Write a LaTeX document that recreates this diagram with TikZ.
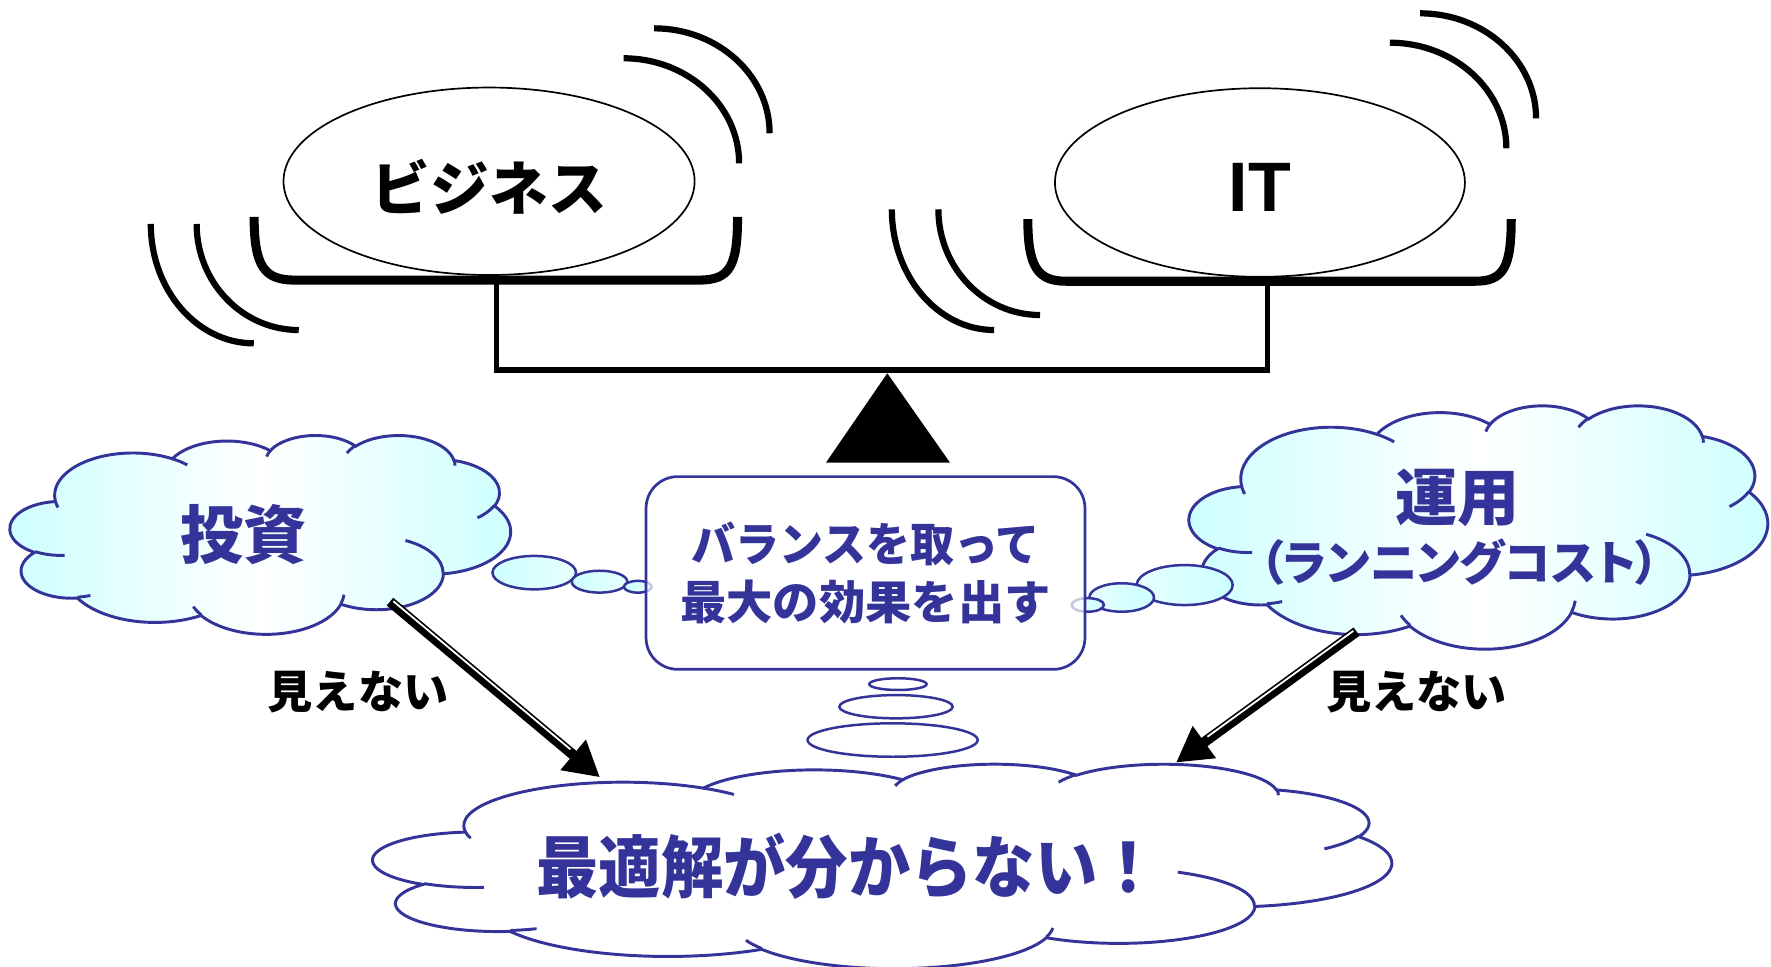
\documentclass[tikz,border=0pt]{standalone}
\usepackage{fontspec}
\usetikzlibrary{shapes.geometric,arrows.meta}
\newfontfamily\jp{Noto Sans CJK JP}
\newfontfamily\jpp{Noto Sans CJK JP}[RawFeature=+palt]
\newfontfamily\lsans{Liberation Sans}
\definecolor{navy}{RGB}{51,51,153}
\definecolor{cloudcyan}{RGB}{204,255,255}
\newcommand\jbf[1]{\jp\bfseries\fontsize{#1}{#1}\selectfont}
\newcommand\jbfp[1]{\jpp\bfseries\fontsize{#1}{#1}\selectfont}
\newcommand\jbfs[2]{\jp\bfseries\fontsize{#1}{#2}\selectfont}
% DrawingML-style arc: wR hR stAng swAng (visual angles)
\newcommand\carc[4]{\pgfextra{%
  \pgfmathsetmacro\cts{atan2((#1)*sin(#3),(#2)*cos(#3))}%
  \pgfmathsetmacro\cte{atan2((#1)*sin((#3)+(#4)),(#2)*cos((#3)+(#4)))}%
  \pgfmathsetmacro\cte{\cte<\cts ? \cte+360 : \cte}%
 }arc[start angle=\cts, end angle=\cte, x radius=#1, y radius=#2]}
\newcommand\pptcloud[5]{%
 \begin{scope}[shift={(#1,#2)},xscale=#3/432,yscale=#4/432]
  \path[#5] (39.00,143.70)
   \carc{67.53}{91.90}{-190.48748}{123.78053}
   \carc{53.33}{72.67}{-144.10238}{89.94523}
   \carc{43.65}{59.45}{-145.80792}{99.72302}
   \carc{48.57}{65.95}{-130.98607}{117.24173}
   \carc{53.33}{72.73}{-78.70888}{109.02692}
   \carc{67.75}{92.20}{-46.26725}{130.269}
   \carc{57.85}{78.67}{0.62502}{114.03333}
   \carc{67.52}{92.15}{22.4516}{115.17255}
   \carc{77.20}{105.43}{66.24263}{75.71102}
   \carc{43.60}{59.18}{-274.94208}{146.73557}
   \carc{43.45}{59.45}{-246.8285}{152.51885}
   -- cycle;
  \draw[cloudline]
   (46.93,261.77) \carc{43.45}{59.45}{86.742}{26.4295}
   (69.28,348.99) \carc{43.60}{59.18}{73.6105}{11.4475}
   (164.78,390.90) \carc{67.52}{92.15}{137.6242}{14.0811}
   (288.27,347.51) \carc{67.52}{92.15}{6.4533}{15.9984}
   (341.29,229.54) \carc{57.85}{78.67}{-70.2924}{70.9174}
   (417.98,153.54) \carc{53.33}{72.73}{30.318}{27.7515}
   (383.24,54.26) \carc{48.57}{65.95}{-13.7443}{14.8589}
   (290.78,39.52) \carc{48.57}{65.95}{-149.1815}{18.1954}
   (221.41,47.20) \carc{43.65}{59.45}{-163.4943}{17.6864}
   (140.00,51.92) \carc{67.53}{91.90}{-66.707}{12.3194}
   (41.27,157.89) \carc{67.53}{91.90}{157.6544}{11.8582};
 \end{scope}}
\begin{document}
\begin{tikzpicture}[x=1pt,y=-1pt,
  vib/.style={line width=5.5pt},
  tray/.style={line width=8pt,line join=round},
  beamline/.style={line width=4.5pt,line join=miter},
  cloudline/.style={draw=navy,line width=2.6pt},
  cyancloud/.style={cloudline,left color=cloudcyan,right color=cloudcyan,middle color=white},
  whitecloud/.style={cloudline,fill=white},
  pan/.style={ellipse,draw,line width=1.5pt,fill=white,inner sep=0pt},
  bubbleL/.style={ellipse,draw=navy,line width=2.2pt,inner sep=0pt,left color=cloudcyan,right color=cloudcyan!45!white},
  bubbleR/.style={ellipse,draw=navy,line width=2.2pt,inner sep=0pt,left color=cloudcyan!45!white,right color=cloudcyan},
  bubbleW/.style={ellipse,draw=navy,line width=2.2pt,inner sep=0pt,fill=white},
  bigarrow/.style={line width=9pt,-{Triangle[length=31pt,width=33pt]}},
  stripe/.style={white,line width=1.6pt,shorten <=2pt,shorten >=36pt},
  bluetext/.style={text=navy,inner sep=0pt},
  blacktext/.style={text=black,inner sep=0pt}]
\useasboundingbox (0,0) rectangle (1568,856);

% ---- balance ----
\node[pan,minimum width=364pt,minimum height=166pt] (biz) at (433,160.5) {};
\node[pan,minimum width=363pt,minimum height=167pt] (it) at (1115.5,161.6) {};
\node[blacktext,font=\jbf{52}] (biztext) at (433.3,165.3) {ビジネス};
\node[blacktext,font=\lsans\bfseries\fontsize{62}{62}\selectfont] (ittext) at (1115.3,166.3) {IT};

\draw[tray] (225,192) .. controls (225,236) and (234,248) .. (261,248) -- (619,248)
  .. controls (646,248) and (653,236) .. (653,192);
\draw[tray] (910,194) .. controls (910,237) and (919,249) .. (944,249) -- (1306,249)
  .. controls (1331,249) and (1338,237) .. (1338,194);
\draw[beamline] (439.7,250) -- (439.7,327.6) -- (1122.3,327.6) -- (1122.3,251);
\fill (785.6,330.5) -- (731.3,409.6) -- (841.1,409.6) -- cycle;

% vibration arcs
\draw[vib] (133.5,198.3) .. controls (133.5,256.8) and (174.5,304) .. (224.7,304);
\draw[vib] (174.1,198.3) .. controls (174.1,250) and (214.5,292.2) .. (264.5,292.2);
\draw[vib] (552.2,51.6) .. controls (608.5,51.6) and (654.4,93.3) .. (654.4,144.6);
\draw[vib] (579.2,25.1) .. controls (635.5,25.1) and (681.4,66.7) .. (681.4,118);
\draw[vib] (789.6,185.3) .. controls (789.6,244.3) and (830.2,292.2) .. (880.2,292.2);
\draw[vib] (830.8,185.3) .. controls (830.8,237) and (871.1,278.9) .. (920.8,278.9);
\draw[vib] (1230.6,37.8) .. controls (1287.5,37.8) and (1333.7,79.7) .. (1333.7,131.3);
\draw[vib] (1257.3,11.8) .. controls (1314,11.8) and (1360,53.5) .. (1360,104.8);

% ---- clouds ----
\pptcloud{9}{385}{443}{176}{cyancloud}
\pptcloud{1053}{358.6}{512}{215.4}{cyancloud}
\pptcloud{330.5}{676}{901.5}{181}{whitecloud}

\node[bluetext,font=\jbf{56}] (invest) at (216,473) {投資};
\node[bluetext,font=\jbf{55}] (ops) at (1290.4,440.4) {運用};
\node[bluetext,font=\jbfp{42}] (running) at (1292.4,497.7) {（ランニングコスト）};
\node[bluetext,font=\jbf{60}] (unknown) at (751,766.6) {\scalebox{0.92}[1]{最適解が分からない！}};

% thought bubbles
\node[bubbleL,minimum width=74pt,minimum height=29.6pt] (lb1) at (473,507) {};
\node[bubbleL,minimum width=49.2pt,minimum height=19.4pt] (lb2) at (530.8,515) {};
\node[bubbleL,minimum width=24.6pt,minimum height=10.4pt] (lb3) at (564.7,519.5) {};
\node[bubbleR,minimum width=85pt,minimum height=35.4pt] (rb1) at (1048.9,518) {};
\node[bubbleR,minimum width=57.2pt,minimum height=25.2pt] (rb2) at (993.1,529) {};
\node[bubbleR,minimum width=28.6pt,minimum height=12pt] (rb3) at (963.1,535.6) {};
\node[bubbleW,minimum width=50.8pt,minimum height=10.4pt] (bb1) at (795,605.7) {};
\node[bubbleW,minimum width=100.4pt,minimum height=20.6pt] (bb2) at (793.3,625.7) {};
\node[bubbleW,minimum width=150.6pt,minimum height=29.6pt] (bb3) at (790.3,655.2) {};

% central box
\node[draw=navy,line width=2.4pt,rounded corners=28pt,fill=white,fill opacity=0.72,
  text opacity=1,text=navy,minimum width=388.6pt,minimum height=170.6pt,
  align=center,font=\jbfs{41}{51.6}] (box) at (766.3,507.3)
  {\scalebox{0.95}[1]{バランスを取って}\\最大の効果を出す};

% ---- arrows ----
\coordinate (s1) at (345.3,532.7);
\coordinate (e1) at (531.2,688.2);
\coordinate (s2) at (1201.1,559.2);
\coordinate (e2) at (1041.2,675.2);
\draw[bigarrow] (s1) -- (e1);
\draw[stripe,transform canvas={xshift=1.4pt,yshift=1.7pt}] (s1) -- (e1);
\draw[bigarrow] (s2) -- (e2);
\draw[stripe,transform canvas={xshift=-1.3pt,yshift=1.8pt}] (s2) -- (e2);

\node[blacktext,font=\jbf{40}] (lblL) at (317,613) {見えない};
\node[blacktext,font=\jbf{40}] (lblR) at (1254,613) {見えない};
\end{tikzpicture}
\end{document}
